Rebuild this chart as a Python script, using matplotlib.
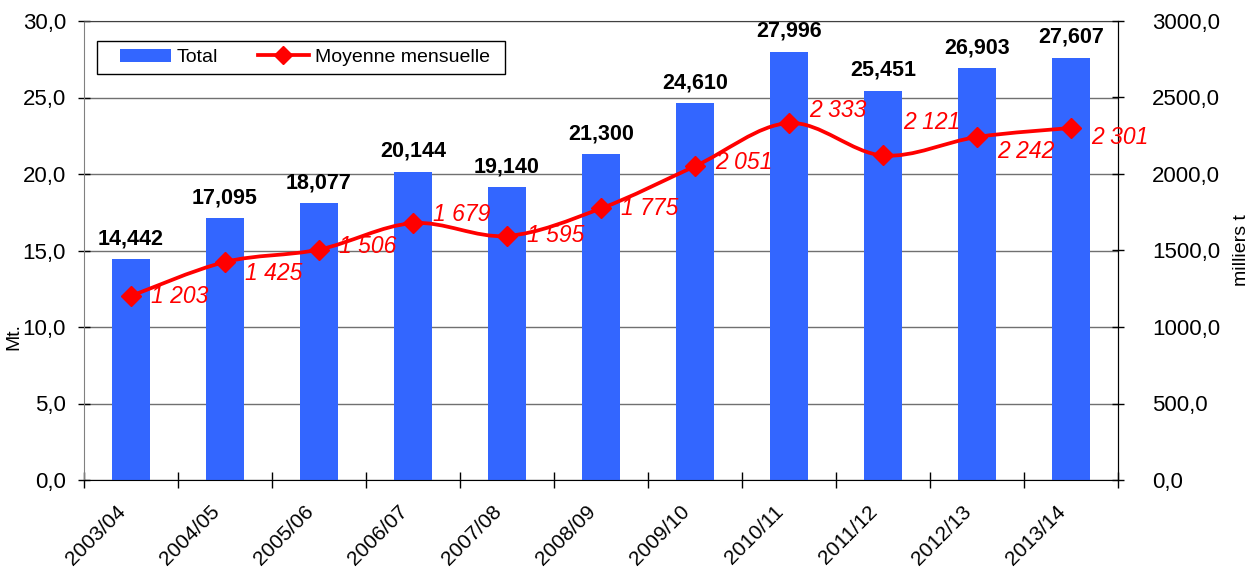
import matplotlib
matplotlib.use("Agg")
import matplotlib.pyplot as plt
import numpy as np
from matplotlib.path import Path
from matplotlib.patches import PathPatch, Patch, Rectangle
from matplotlib.lines import Line2D
import matplotlib.transforms as mtransforms

# ---------------- data ----------------
seasons = ["2003/04", "2004/05", "2005/06", "2006/07", "2007/08", "2008/09",
           "2009/10", "2010/11", "2011/12", "2012/13", "2013/14"]
total_mt = [14.442, 17.095, 18.077, 20.144, 19.140, 21.300,
            24.610, 27.996, 25.451, 26.903, 27.607]
monthly_kt = [1203, 1425, 1506, 1679, 1595, 1775, 2051, 2333, 2121, 2242, 2301]

left_ticks = [0, 5, 10, 15, 20, 25, 30]
right_ticks = [0, 500, 1000, 1500, 2000, 2500, 3000]

# label vertical nudges (pixels, + = up) for the line value labels
line_label_dy = [-1, -12, 3, 9, 0, 0, 4, 13, 33, -15, -10]

BLUE = "#3366FF"
RED = "#FF0000"

plt.rcParams["font.family"] = ["Liberation Sans", "DejaVu Sans"]

W, H = 1252, 570
fig = plt.figure(figsize=(W / 100, H / 100), dpi=100)
x0, x1, y0, y1 = 84, 1118, 21, 480
ax = fig.add_axes([x0 / W, 1 - y1 / H, (x1 - x0) / W, (y1 - y0) / H])

n = len(seasons)
xc = np.arange(n) + 0.5

ax.bar(xc, total_mt, width=0.4, color=BLUE, zorder=2)
ax.set_xlim(0, n)
ax.set_ylim(0, 30)
ax.set_yticks(left_ticks)
ax.set_yticklabels([f"{v:.1f}".replace(".", ",") for v in left_ticks], fontsize=16)
ax.yaxis.grid(True, color="#707070", lw=1, zorder=0)
ax.set_axisbelow(True)

# x ticks: boundaries (major, marks) and centers (minor, labels)
ax.set_xticks(np.arange(n + 1))
ax.set_xticklabels([])
ax.set_xticks(xc, minor=True)
ax.set_xticklabels(seasons, minor=True, rotation=45, ha="right",
                   rotation_mode="anchor", va="top", fontsize=15)
ax.tick_params(axis="x", which="major", direction="inout", length=12, width=1, color="black")
ax.tick_params(axis="x", which="minor", length=0, pad=0)
ax.tick_params(axis="y", direction="inout", length=9, width=1, color="black", pad=8.5)
off = mtransforms.ScaledTranslation(-15 / 100, -22 / 100, fig.dpi_scale_trans)
for lab in ax.get_xticklabels(minor=True):
    lab.set_transform(lab.get_transform() + off)

ax.spines["left"].set_color("#808080")
ax.spines["bottom"].set_color("black")
ax.spines["top"].set_color("#404040")
ax.spines["right"].set_color("black")

# bar labels
for xi, v in zip(xc, total_mt):
    ax.annotate(f"{v:.3f}".replace(".", ","), (xi, v), xytext=(0, 10),
                textcoords="offset pixels", ha="center", va="bottom",
                fontsize=15.5, fontweight="bold", color="black")

# secondary axis
ax2 = ax.twinx()
ax2.set_ylim(0, 3000)
ax2.set_yticks(right_ticks)
ax2.set_yticklabels([f"{v:.1f}".replace(".", ",") for v in right_ticks], fontsize=16)
ax2.tick_params(axis="y", direction="inout", length=9, width=1, color="black", pad=20)
for s in ax2.spines.values():
    s.set_visible(False)
ax2.spines["right"].set_visible(True)
ax2.spines["right"].set_color("black")

# axis titles
fig.text(14 / W, 1 - 336 / H, "Mt.", rotation=90, ha="center", va="center", fontsize=14)
fig.text(1241 / W, 1 - 250 / H, "milliers t", rotation=90, ha="center", va="center", fontsize=14)


def smooth_path(xs, ys):
    pts = np.column_stack([xs, ys]).astype(float)
    m = len(pts)
    verts = [pts[0]]
    codes = [Path.MOVETO]
    for i in range(m - 1):
        p0 = pts[i - 1] if i > 0 else pts[i]
        p1 = pts[i]
        p2 = pts[i + 1]
        p3 = pts[i + 2] if i + 2 < m else pts[i + 1]
        c1 = p1 + (p2 - p0) / 6.0
        c2 = p2 - (p3 - p1) / 6.0
        verts += [c1, c2, p2]
        codes += [Path.CURVE4] * 3
    return Path(verts, codes)


ax2.add_patch(PathPatch(smooth_path(xc, monthly_kt), facecolor="none",
                        edgecolor=RED, lw=2.7, zorder=3, transform=ax2.transData))
ax2.plot(xc, monthly_kt, ls="none", marker="D", ms=10, color=RED, zorder=4)

for xi, v, dy in zip(xc, monthly_kt, line_label_dy):
    ax2.annotate(f"{v:,}".replace(",", " "), (xi, v), xytext=(20, dy),
                 textcoords="offset pixels", ha="left", va="center",
                 fontsize=16.5, fontstyle="italic", color=RED, zorder=5)

# legend: frame drawn separately to match the wide inner padding
fig.add_artist(Rectangle((97 / W, 1 - 74 / H), (505 - 97) / W, (74 - 41) / H,
                         transform=fig.transFigure, facecolor="white",
                         edgecolor="black", lw=1, zorder=10))
handles = [Patch(facecolor=BLUE, edgecolor="none"),
           Line2D([], [], color=RED, lw=2.7, marker="D", ms=9)]
leg = fig.legend(handles, ["Total", "Moyenne mensuelle"], loc="center left",
                 bbox_to_anchor=(120 / W, 1 - 57.5 / H), ncol=2, frameon=False,
                 fontsize=14, handlelength=2.6, handleheight=0.62, handletextpad=0.32,
                 columnspacing=2.05, borderpad=0, borderaxespad=0)
leg.set_zorder(11)

fig.savefig("out.png", dpi=100)
